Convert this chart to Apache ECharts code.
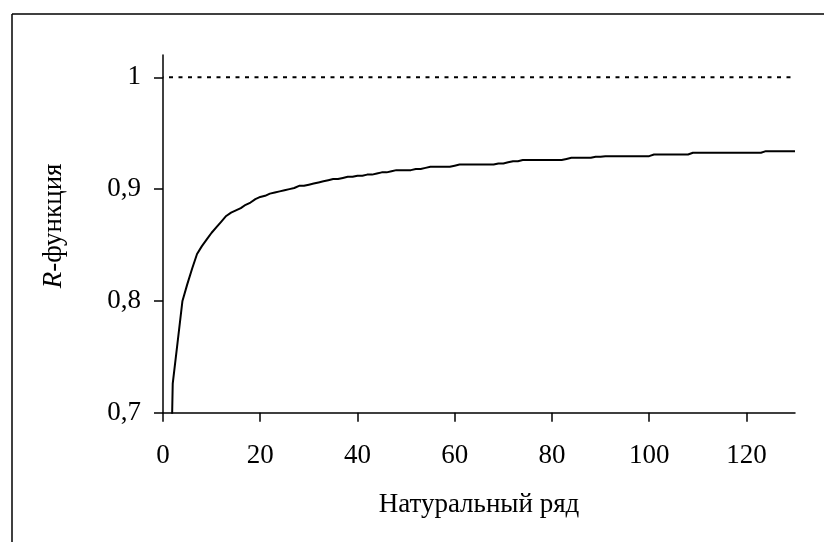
<!DOCTYPE html>
<html><head><meta charset="utf-8">
<script src="https://cdn.jsdelivr.net/npm/echarts@6/dist/echarts.min.js"></script>
<style>html,body{margin:0;padding:0;background:#fff}#c{width:824px;height:542px}</style>
</head><body><div id="c"></div>
<script>
// R-function values for n = 1..130 (natural series)
const rValues = [
  0.500, 0.726, 0.763, 0.800, 0.815, 0.829, 0.842, 0.849, 0.855, 0.861,
  0.866, 0.871, 0.876, 0.879, 0.881, 0.883, 0.886, 0.888, 0.891, 0.893,
  0.894, 0.896, 0.897, 0.898, 0.899, 0.900, 0.901, 0.903, 0.903, 0.904,
  0.905, 0.906, 0.907, 0.908, 0.909, 0.909, 0.910, 0.911, 0.911, 0.912,
  0.912, 0.913, 0.913, 0.914, 0.915, 0.915, 0.916, 0.917, 0.917, 0.917,
  0.917, 0.918, 0.918, 0.919, 0.920, 0.920, 0.920, 0.920, 0.920, 0.921,
  0.922, 0.922, 0.922, 0.922, 0.922, 0.922, 0.922, 0.922, 0.923, 0.923,
  0.924, 0.925, 0.925, 0.926, 0.926, 0.926, 0.926, 0.926, 0.926, 0.926,
  0.926, 0.926, 0.927, 0.928, 0.928, 0.928, 0.928, 0.928, 0.929, 0.929,
  0.9295, 0.9295, 0.9295, 0.9295, 0.9295, 0.9295, 0.9295, 0.9295, 0.9295, 0.9295,
  0.931, 0.931, 0.931, 0.931, 0.931, 0.931, 0.931, 0.931, 0.9325, 0.9325,
  0.9325, 0.9325, 0.9325, 0.9325, 0.9325, 0.9325, 0.9325, 0.9325, 0.9325, 0.9325,
  0.9325, 0.9325, 0.9325, 0.934, 0.934, 0.934, 0.934, 0.934, 0.934, 0.934
];
const nStart = 1;
const xTicks = [0, 20, 40, 60, 80, 100, 120];
const yTicks = [0.7, 0.8, 0.9, 1];
const refLevel = 1;
const xMin = 0, xMax = 130, yMin = 0.7, yMax = 1.02;
const xName = 'Натуральный ряд';
const yNameItalic = 'R';
const yNameRest = '-функция';

const seriesData = rValues.map((v, i) => [nStart + i, v]);
const refData = [[xMin, refLevel], [xMax, refLevel]];

const font = 'Liberation Serif, Times New Roman, serif';
const chart = echarts.init(document.getElementById('c'), null, {renderer: 'canvas'});
chart.setOption({
  animation: false,
  backgroundColor: '#fff',
  grid: {left: 163, right: 29, top: 55, bottom: 129.3, containLabel: false, outerBoundsMode: 'none'},
  graphic: [
    {type: 'line', shape: {x1: 12, y1: 14, x2: 12, y2: 560}, style: {stroke: '#000', lineWidth: 1.5}, silent: true},
    {type: 'line', shape: {x1: 12, y1: 14, x2: 840, y2: 14}, style: {stroke: '#000', lineWidth: 1.5}, silent: true}
  ],
  xAxis: {
    type: 'value', min: xMin, max: xMax, interval: 20,
    name: xName, nameLocation: 'middle', nameGap: 79,
    nameTextStyle: {fontFamily: font, fontSize: 27, color: '#000'},
    axisLine: {lineStyle: {color: '#000', width: 1.5}},
    axisTick: {show: true, length: 9, lineStyle: {color: '#000', width: 1.5}, customValues: xTicks},
    axisLabel: {fontFamily: font, fontSize: 27, color: '#000', margin: 30, customValues: xTicks},
    splitLine: {show: false}
  },
  yAxis: {
    type: 'value', min: yMin, max: yMax, interval: 0.1,
    name: '{i|' + yNameItalic + '}' + yNameRest, nameLocation: 'middle', nameGap: 96,
    nameTextStyle: {fontFamily: font, fontSize: 27, color: '#000', padding: [0, 0, 0, 16],
      rich: {i: {fontFamily: font, fontSize: 27, fontStyle: 'italic', color: '#000'}}},
    axisLine: {show: true, lineStyle: {color: '#000', width: 1.5}},
    axisTick: {show: true, length: 9, lineStyle: {color: '#000', width: 1.5}, customValues: yTicks},
    axisLabel: {fontFamily: font, fontSize: 27, color: '#000', margin: 22, customValues: yTicks,
      formatter: v => (Math.abs(v - 1) < 1e-9 ? '1' : v.toFixed(1).replace('.', ','))},
    splitLine: {show: false}
  },
  series: [
    {type: 'line', data: seriesData, showSymbol: false, symbol: 'none', clip: true,
      lineStyle: {color: '#000', width: 2}, emphasis: {disabled: true}, z: 3},
    {type: 'line', data: refData, showSymbol: false, symbol: 'none',
      lineStyle: {color: '#000', width: 2, type: [4, 5.5], dashOffset: 3.5}, emphasis: {disabled: true}, z: 2}
  ]
});
</script>
</body></html>
